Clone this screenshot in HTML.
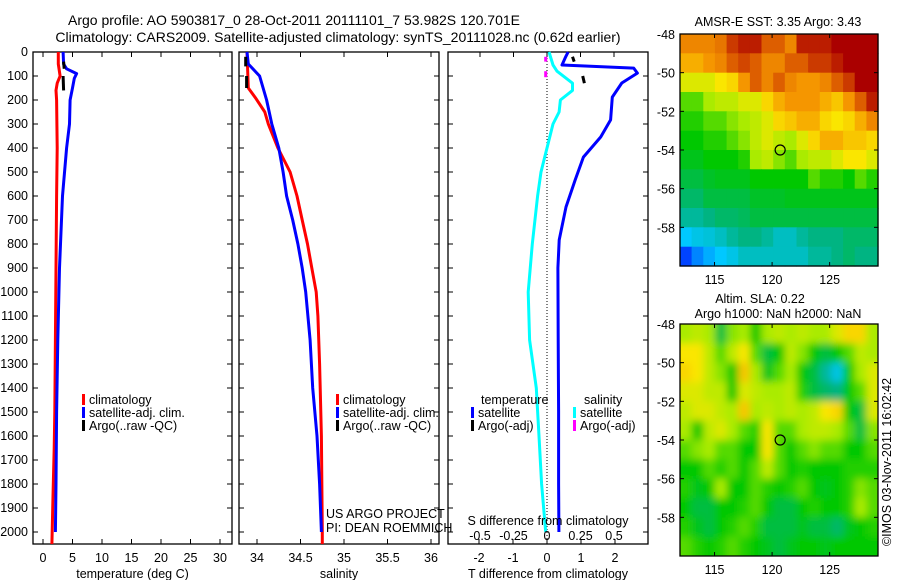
<!DOCTYPE html>
<html><head><meta charset="utf-8">
<style>
html,body{margin:0;padding:0;background:#fff;}
svg{display:block;font-family:"Liberation Sans",sans-serif;}
text{font-size:12.5px;fill:#000;}
</style></head>
<body>
<svg id="fig" width="900" height="580" viewBox="0 0 900 580" xmlns="http://www.w3.org/2000/svg">
<defs>
<filter id="blur" x="-5%" y="-5%" width="110%" height="110%"><feGaussianBlur stdDeviation="4"/></filter>
<clipPath id="clipSla"><rect x="680" y="324" width="198" height="232"/></clipPath>
</defs>
<rect x="0" y="0" width="900" height="580" fill="#fff"/>
<text x="294" y="25" text-anchor="middle" style="font-size:14px">Argo profile: AO 5903817_0 28-Oct-2011 20111101_7 53.982S 120.701E</text>
<text x="338" y="42" text-anchor="middle" style="font-size:14px">Climatology: CARS2009. Satellite-adjusted climatology: synTS_20111028.nc (0.62d earlier)</text>
<g id="g"></g>
</svg>
<script>
// ---------- data ----------
const tClimDepth=[0,50,100,130,160,200,400,600,900,1200,1500,1650,1850,2050];
const tClimVal=[2.6,2.6,2.9,2.4,2.2,2.3,2.4,2.3,2.2,2.1,2.0,1.9,1.7,1.5];
const tSatDepth=[0,50,70,90,110,150,200,300,400,600,900,1200,1500,1800,2000];
const tSatVal=[3.4,3.5,4.0,5.7,5.3,5.0,4.6,4.5,4.0,3.3,2.8,2.5,2.3,2.2,2.1];
const tArgoDepth=[[40,70],[100,160]];
const tArgoVal=[[3.5,3.6],[3.4,3.5]];
const sClimDepth=[0,150,190,250,300,400,500,600,700,800,900,1000,1100,1300,1600,2000,2050];
const sClimVal=[33.885,33.9,33.98,34.09,34.13,34.24,34.38,34.46,34.52,34.58,34.63,34.68,34.70,34.72,34.74,34.75,34.75];
const sSatDepth=[0,50,100,200,300,400,500,600,700,800,900,1000,1200,1400,1600,1800,2000];
const sSatVal=[33.885,33.9,34.03,34.11,34.17,34.25,34.30,34.34,34.41,34.47,34.52,34.56,34.61,34.64,34.69,34.72,34.74];
const sArgoDepth=[[20,60],[100,150]];
const sArgoVal=[[33.87,33.87],[33.88,33.88]];
const dTDepth=[0,20,54,67,88,129,188,283,354,438,533,646,783,900,1200,1500,1800,2000];
const dTVal=[0.62,0.55,0.44,2.55,2.66,2.2,1.92,1.87,1.58,1.07,0.83,0.56,0.36,0.32,0.33,0.34,0.34,0.35];
const dSDepth=[0,54,80,130,160,200,250,300,400,500,600,800,1000,1200,1400,1600,1800,2000];
const dSVal=[0.015,0.045,0.075,0.19,0.19,0.1,0.09,0.045,0,-0.045,-0.07,-0.11,-0.14,-0.13,-0.08,-0.06,-0.04,-0.01];
const dTArgoDepth=[[20,40],[100,130]];
const dTArgoVal=[[0.75,0.8],[1.05,1.1]];
const dSArgoDepth=[[20,40],[80,105]];
const dSArgoVal=[[-0.01,-0.01],[-0.01,-0.01]];
const depthTicks=[0,100,200,300,400,500,600,700,800,900,1000,1100,1200,1300,1400,1500,1600,1700,1800,1900,2000];
const tTicks=[0,5,10,15,20,25,30];
const sTicks=[34,34.5,35,35.5,36];
const sTickLabels=["34","34.5","35","35.5","36"];
const dTTicks=[-2,-1,0,1,2];
const dSTicks=[-0.5,-0.25,0,0.25,0.5];
const dSTickLabels=["-0.5","-0.25","0","0.25","0.5"];
const latTicks=[-48,-50,-52,-54,-56,-58];
const lonTicks=[115,120,125];
const sstTitle="AMSR-E SST: 3.35 Argo: 3.43";
const sst=[
[.8,.8,.8,.82,.9,.95,.95,.85,.85,.8,.95,.95,.95,1,1,1,1],
[.75,.75,.78,.8,.85,.88,.85,.8,.8,.85,.85,.9,.9,.95,1,1,1],
[.65,.65,.65,.68,.7,.78,.85,.8,.85,.8,.78,.78,.8,.85,.9,1,1],
[.55,.55,.6,.62,.62,.65,.65,.7,.75,.78,.78,.78,.75,.72,.78,.85,.95],
[.52,.52,.55,.55,.58,.6,.62,.65,.7,.72,.75,.75,.7,.68,.7,.75,.8],
[.5,.5,.52,.52,.55,.58,.62,.65,.62,.6,.65,.7,.75,.75,.72,.72,.7],
[.48,.48,.5,.5,.5,.52,.6,.62,.58,.55,.6,.62,.62,.65,.68,.68,.65],
[.45,.45,.47,.48,.48,.48,.5,.5,.5,.5,.5,.55,.52,.52,.5,.55,.52],
[.42,.42,.45,.45,.45,.45,.47,.47,.47,.48,.48,.48,.48,.48,.48,.48,.48],
[.38,.38,.4,.42,.42,.43,.45,.45,.45,.45,.45,.45,.45,.45,.45,.45,.45],
[.3,.32,.33,.35,.38,.4,.4,.38,.35,.35,.38,.4,.4,.4,.42,.42,.42],
[.2,.25,.28,.3,.32,.35,.35,.35,.35,.35,.35,.38,.38,.4,.42,.4,.4]];
const sla=[
[.6,.62,.6,.45,.58,.6,.5,.6,.62,.6,.62,.6,.6,.65,.7,.7,.6],
[.68,.68,.62,.55,.62,.68,.55,.45,.5,.62,.58,.5,.45,.5,.55,.62,.6],
[.7,.68,.62,.58,.5,.72,.6,.48,.55,.6,.5,.45,.38,.32,.5,.6,.65],
[.65,.65,.62,.62,.5,.65,.62,.6,.6,.62,.52,.45,.42,.4,.5,.55,.65],
[.62,.65,.65,.62,.6,.72,.6,.62,.6,.62,.6,.62,.68,.7,.5,.45,.65],
[.6,.5,.62,.65,.6,.55,.52,.68,.55,.55,.6,.62,.62,.6,.55,.45,.58],
[.55,.58,.6,.55,.55,.5,.5,.68,.55,.5,.55,.58,.55,.55,.5,.5,.55],
[.5,.5,.55,.52,.55,.5,.55,.62,.55,.5,.52,.5,.5,.5,.52,.52,.52],
[.52,.48,.5,.6,.5,.5,.55,.52,.5,.52,.55,.5,.48,.5,.52,.58,.55],
[.5,.45,.45,.5,.5,.52,.55,.5,.45,.45,.5,.52,.5,.5,.52,.6,.55],
[.52,.48,.45,.5,.52,.55,.52,.45,.45,.45,.48,.45,.45,.42,.48,.5,.52],
[.55,.52,.5,.52,.55,.52,.5,.48,.45,.48,.5,.5,.48,.5,.5,.5,.5]];
const argoLon=[120.7], argoLat=[-54.0];

// ---------- helpers ----------
const NS="http://www.w3.org/2000/svg";
const G=document.getElementById('g');
function mk(tag,at,parent){const e=document.createElementNS(NS,tag);for(const k in at)e.setAttribute(k,at[k]);(parent||G).appendChild(e);return e;}
function txt(s,x,y,anchor,size,parent){const e=mk('text',{x:x,y:y,'text-anchor':anchor||'start'},parent);if(size)e.style.fontSize=size+'px';e.textContent=s;return e;}
const PT=52, PB=544;
const yD=d=>PT+d*0.24;
function lin(d0,d1,p0,p1){return v=>p0+(v-d0)*(p1-p0)/(d1-d0);}
const x1=lin(0,5,43,72.5);
const x2=lin(34,35,257,344);
const x3=lin(0,1,547,581);
const x3s=lin(0,0.25,547,580.5);

function panel(name,L,R,xTicks,xLabels,xs,xlabel,topTicks,topScale){
  const g=mk('g',{});
  
  
  mk('rect',{x:L,y:PT,width:R-L,height:PB-PT,fill:'none',stroke:'#000','stroke-width':1.3},g);
  depthTicks.forEach(d=>{const y=yD(d);
    mk('line',{x1:L,x2:L+5,y1:y,y2:y,stroke:'#000'},g);
    mk('line',{x1:R-5,x2:R,y1:y,y2:y,stroke:'#000'},g);});
  xTicks.forEach((v,i)=>{const x=xs(v);
    mk('line',{x1:x,x2:x,y1:PB,y2:PB-5,stroke:'#000'},g);
    if(!topTicks) mk('line',{x1:x,x2:x,y1:PT,y2:PT+5,stroke:'#000'},g);
    const t=txt(xLabels[i],x,PB+18,'middle',null,g);
    });
  if(topTicks) topTicks.forEach(v=>{const x=topScale(v);mk('line',{x1:x,x2:x,y1:PT,y2:PT+5,stroke:'#000'},g);});
  const xl=txt(xlabel,(L+R)/2,PB+34,'middle',null,g);
  
  return g;
}
function line(g,ds,vs,xs,color,w,name,dash){
  const p=mk('polyline',{points:ds.map((d,i)=>xs(vs[i]).toFixed(1)+','+yD(d).toFixed(1)).join(' '),fill:'none',stroke:color,'stroke-width':w,'stroke-linejoin':'round'},g);
  if(dash)p.setAttribute('stroke-dasharray',dash);
  
  
}
function segs(g,D,V,xs,color,name){D.forEach((ds,j)=>line(g,ds,V[j],xs,color,3,name));}
function legend(g,items,x,y){items.forEach((it,i)=>{const yy=y+i*13;
  const r=mk('rect',{x:x,y:yy-10,width:3,height:11,fill:it[1]},g);
  
  const t=txt(it[0],x+7,yy,'start',null,g);
  });}

depthTicks.forEach(d=>{const t=txt(String(d),28,yD(d)+4,'end');
  });

const p1=panel('temperature-panel',33,232,tTicks,tTicks.map(String),x1,'temperature (deg C)');
line(p1,tClimDepth,tClimVal,x1,'#f00',3,'temperature-climatology-line');
line(p1,tSatDepth,tSatVal,x1,'#00f',3,'temperature-satellite-line');
segs(p1,tArgoDepth,tArgoVal,x1,'#000','temperature-argo-line');
legend(p1,[['climatology','#f00'],['satellite-adj. clim.','#00f'],['Argo(..raw -QC)','#000']],82,404);

const p2=panel('salinity-panel',239,439,sTicks,sTickLabels,x2,'salinity');
line(p2,sClimDepth,sClimVal,x2,'#f00',3,'salinity-climatology-line');
line(p2,sSatDepth,sSatVal,x2,'#00f',3,'salinity-satellite-line');
segs(p2,sArgoDepth,sArgoVal,x2,'#000','salinity-argo-line');
legend(p2,[['climatology','#f00'],['satellite-adj. clim.','#00f'],['Argo(..raw -QC)','#000']],336,404);
txt('US ARGO PROJECT',326,518,'start',null,p2);
txt('PI: DEAN ROEMMICH',326,532,'start',null,p2);

const p3=panel('difference-panel',448,648,dTTicks,dTTicks.map(String),x3,'T difference from climatology',dSTicks,x3s);
const zl=mk('line',{x1:x3(0),x2:x3(0),y1:PT,y2:PB,stroke:'#000','stroke-dasharray':'1,2'},p3);

line(p3,dSDepth,dSVal,x3s,'#0ff',3,'salinity-difference-line');
line(p3,dTDepth,dTVal,x3,'#00f',3,'temperature-difference-line');
segs(p3,dTArgoDepth,dTArgoVal,x3,'#000','temperature-argo-difference');
segs(p3,dSArgoDepth,dSArgoVal,x3s,'#f0f','salinity-argo-difference');
txt('temperature',481,404,'start',null,p3);txt('salinity',584,404,'start',null,p3);
legend(p3,[['satellite','#00f'],['Argo(-adj)','#000']],471,417);
legend(p3,[['satellite','#0ff'],['Argo(-adj)','#f0f']],573,417);
txt('S difference from climatology',548,525,'middle',null,p3);
dSTicks.forEach((v,i)=>txt(dSTickLabels[i],x3s(v),540,'middle',null,p3));

// colormap (matches reference palette)
const cmStops=[[0,0,0,140],[0.15,0,0,255],[0.3,0,200,255],[0.4,0,180,130],[0.5,0,200,0],[0.6,170,235,0],[0.68,250,230,0],[0.78,245,150,0],[0.88,210,70,0],[1,170,0,0]];
function cmap(v){v=Math.max(0,Math.min(1,v));
  for(let i=1;i<cmStops.length;i++){if(v<=cmStops[i][0]){const a=cmStops[i-1],b=cmStops[i],t=(v-a[0])/(b[0]-a[0]);
    return `rgb(${Math.round(a[1]+t*(b[1]-a[1]))},${Math.round(a[2]+t*(b[2]-a[2]))},${Math.round(a[3]+t*(b[3]-a[3]))})`;}}
  return 'rgb(170,0,0)';}
function map(name,grid,top,title1,title2,smooth){
  const L=680,R=878,T=top,B=top+232;
  const xs=lin(112,129.2,L,R), ys=lin(-48,-60,T,B);
  const g=mk('g',{});
  
  let cg=g;
  if(smooth){const outer=mk('g',{'clip-path':'url(#clipSla)'},g);cg=mk('g',{filter:'url(#blur)'},outer);}
  const nr=grid.length,nc=grid[0].length;
  for(let i=0;i<nr;i++)for(let j=0;j<nc;j++){
    const x0=L+j*(R-L)/nc,y0=T+i*(B-T)/nr;
    const pad=smooth?8:0;
    const c=mk('rect',{x:(x0-(j==0?pad:0)).toFixed(1),y:(y0-(i==0?pad:0)).toFixed(1),width:((R-L)/nc+0.6+(j==0||j==nc-1?pad:0)).toFixed(1),height:((B-T)/nr+0.6+(i==0||i==nr-1?pad:0)).toFixed(1),fill:cmap(grid[i][j])},cg);
    }
  mk('rect',{x:L,y:T,width:R-L,height:B-T,fill:'none',stroke:'#000','stroke-width':1.3},g);
  latTicks.forEach(v=>{const y=ys(v);mk('line',{x1:L,x2:L+4,y1:y,y2:y,stroke:'#000'},g);mk('line',{x1:R-4,x2:R,y1:y,y2:y,stroke:'#000'},g);
    const t=txt(String(v),675,y+5,'end',null,g);});
  lonTicks.forEach(v=>{const x=xs(v);mk('line',{x1:x,x2:x,y1:B,y2:B-4,stroke:'#000'},g);mk('line',{x1:x,x2:x,y1:T,y2:T+4,stroke:'#000'},g);
    const t=txt(String(v),x,B+18,'middle',null,g);});
  argoLon.forEach((lo,i)=>{const c=mk('circle',{cx:xs(lo),cy:ys(argoLat[i]),r:5,fill:'none',stroke:'#000','stroke-width':1.2},g);
    });
  if(title2){txt(title1,760,303,'middle',null,g);txt(title2,778,318,'middle',null,g);}
  else txt(title1,778,26,'middle',null,g);
}
map('sst-map',sst,34,sstTitle,null,false);
map('sla-map',sla,324,'Altim. SLA: 0.22','Argo h1000: NaN h2000: NaN',true);
const cr=txt('©IMOS 03-Nov-2011 16:02:42',0,0,'middle');
cr.setAttribute('transform','translate(891,462) rotate(-90)');


</script>
</body></html>
